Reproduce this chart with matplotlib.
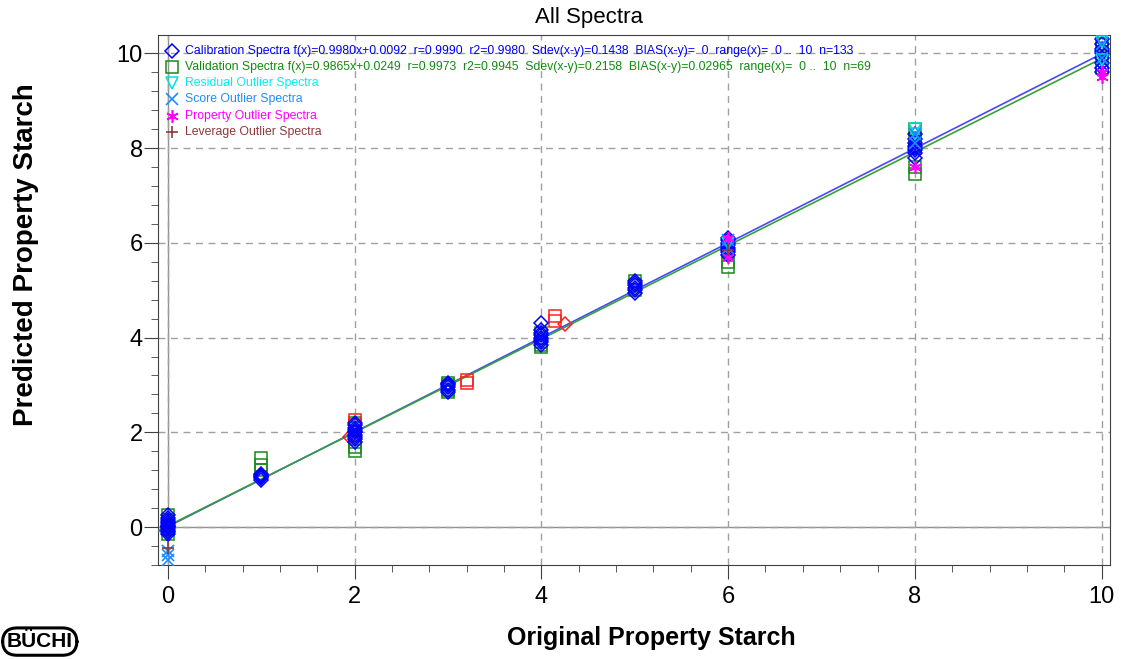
import matplotlib
matplotlib.use("Agg")
from matplotlib import pyplot as plt
from matplotlib.ticker import MultipleLocator

# Calibration spectra (blue diamonds)
cal_x = [0] * 13 + [1] * 6 + [2] * 10 + [3] * 6 + [4] * 8 + [5] * 6 + [6] * 8 + [8] * 8 + [10] * 9
cal_y = [-0.15, -0.1, -0.05, 0.0, 0.02, 0.05, 0.08, 0.1, 0.15, 0.2, 0.25, -0.08, 0.0,
         1.0, 1.03, 1.05, 1.08, 1.1, 1.12,
         1.85, 1.9, 1.95, 2.0, 2.05, 2.1, 2.15, 2.2, 1.8, 2.0,
         2.85, 2.9, 2.95, 3.0, 3.02, 3.05,
         3.85, 3.9, 3.95, 4.0, 4.05, 4.1, 4.15, 4.3,
         4.95, 5.0, 5.05, 5.1, 5.15, 5.2,
         5.75, 5.8, 5.85, 5.9, 5.95, 6.0, 6.05, 6.1,
         7.8, 7.9, 7.95, 8.0, 8.05, 8.1, 8.2, 8.3,
         9.6, 9.7, 9.8, 9.9, 10.0, 10.05, 10.1, 10.2, 10.3]

# Validation spectra (green squares)
val_x = [0] * 5 + [1] * 3 + [2] * 5 + [3] * 5 + [4] * 5 + [5] * 3 + [6] * 4 + [8] * 5 + [10] * 4
val_y = [-0.15, -0.05, 0.05, 0.15, 0.25,
         1.2, 1.3, 1.45,
         1.6, 1.7, 1.8, 2.1, 2.2,
         2.85, 2.9, 2.95, 3.0, 3.05,
         3.8, 3.85, 3.9, 4.0, 4.1,
         5.0, 5.1, 5.2,
         5.5, 5.6, 5.8, 6.0,
         7.45, 7.6, 8.0, 8.2, 8.4,
         9.7, 9.9, 10.1, 10.2]

# outliers
res_x = [6, 8, 8, 10, 10]
res_y = [6.0, 8.3, 8.4, 9.85, 10.25]
score_x = [0, 0, 0, 6, 6, 8, 8, 10, 10]
score_y = [-0.5, -0.6, -0.7, 5.9, 6.05, 8.1, 8.3, 9.9, 10.2]
prop_x = [6, 6, 8, 10, 10]
prop_y = [5.7, 6.1, 7.6, 9.5, 9.6]
lev_x = [0, 6]
lev_y = [-0.45, 5.85]

# highlighted (red) samples
red_d_x = [1.95, 4.25]
red_d_y = [1.9, 4.28]
red_s_x = [2.0, 2.0, 3.2, 3.2, 4.15, 4.15]
red_s_y = [2.25, 2.15, 3.1, 3.05, 4.35, 4.45]

# regression lines
cal_slope, cal_icpt = 0.9980, 0.0092
val_slope, val_icpt = 0.9865, 0.0249

labels = [
    "Calibration Spectra f(x)=0.9980x+0.0092  r=0.9990  r2=0.9980  Sdev(x-y)=0.1438  BIAS(x-y)=  0  range(x)=  0 ..  10  n=133",
    "Validation Spectra f(x)=0.9865x+0.0249  r=0.9973  r2=0.9945  Sdev(x-y)=0.2158  BIAS(x-y)=0.02965  range(x)=  0 ..  10  n=69",
    "Residual Outlier Spectra",
    "Score Outlier Spectra",
    "Property Outlier Spectra",
    "Leverage Outlier Spectra",
]
label_colors = ['#0000ff', '#128a12', '#00f0f0', '#1e8cff', '#ff00ff', '#8b3a3a']

plt.rcParams['font.family'] = ['Liberation Sans', 'DejaVu Sans']

fig = plt.figure(figsize=(11.22, 6.59), dpi=100)
ax = fig.add_axes([0.1408, 0.1426, 0.8485, 0.8042])

ax.axhline(0, color='#909090', lw=1, zorder=1)
ax.axvline(0, color='#909090', lw=1, zorder=1)
ax.grid(True, which='major', ls=(0, (5, 4)), color='#a0a0a0', lw=1)

lx = [-0.1, 10.0]
ax.plot(lx, [cal_slope * v + cal_icpt for v in lx], color='#4848ff', lw=1.2, zorder=3)
lx2 = [-0.1, 10.09]
ax.plot(lx2, [val_slope * v + val_icpt for v in lx2], color='#38a038', lw=1.2, zorder=3)

mk = [
    dict(marker='D', mfc='none', mec='#0000ff', ms=7, mew=1.1),
    dict(marker='s', mfc='none', mec='#1a8a1a', ms=8.5, mew=1.1),
    dict(marker='v', mfc='none', mec='#00e0e0', ms=8, mew=1.1),
    dict(marker='x', color='#1e8cff', ms=8, mew=1.2),
    dict(marker=(6, 2, 0), color='#ff00ff', ms=9, mew=1.2),
    dict(marker='+', color='#8b3a3a', ms=9, mew=1.2),
]

ax.plot(val_x, val_y, ls='none', zorder=4, **mk[1])
ax.plot(cal_x, cal_y, ls='none', zorder=5, **mk[0])
ax.plot(res_x, res_y, ls='none', zorder=5, **mk[2])
ax.plot(score_x, score_y, ls='none', zorder=5, **mk[3])
ax.plot(prop_x, prop_y, ls='none', zorder=5, **mk[4])
ax.plot(lev_x, lev_y, ls='none', zorder=5, **mk[5])
ax.plot(red_s_x, red_s_y, 's', mfc='none', mec='#ff2020', ms=8.5, mew=1.1, ls='none', zorder=4)
ax.plot(red_d_x, red_d_y, 'D', mfc='none', mec='#ff2020', ms=7.5, mew=1.1, ls='none', zorder=4)

# legend, drawn by hand in the top-left corner
for i in range(len(labels)):
    yy = 1 - (15.7 + 16.2 * i) / 530
    ax.plot([0.0147], [yy], transform=ax.transAxes, clip_on=False, ls='none', zorder=6, **mk[i])
    ax.text(0.0284, yy, labels[i], transform=ax.transAxes, color=label_colors[i],
            fontsize=8.8, va='center', ha='left', zorder=6)

ax.set_xlim(-0.107, 10.09)
ax.set_ylim(-0.802, 10.386)
ax.xaxis.set_major_locator(MultipleLocator(2))
ax.xaxis.set_minor_locator(MultipleLocator(0.4))
ax.yaxis.set_major_locator(MultipleLocator(2))
ax.yaxis.set_minor_locator(MultipleLocator(0.4))
ax.tick_params(which='major', length=10, labelsize=17, direction='out', color='#404040')
ax.tick_params(axis='y', which='major', pad=1)
ax.tick_params(axis='x', which='major', pad=5)
ax.tick_params(which='minor', length=5, direction='out', color='#404040')
for s in ax.spines.values():
    s.set_color('#404040')

fig.text(589 / 1122, 1 - 17 / 659, 'All Spectra', fontsize=16, ha='center', va='center')
fig.text(651 / 1122, 1 - 638 / 659, 'Original Property Starch', fontsize=18,
         fontweight='bold', ha='center', va='center')
fig.text(26 / 1122, 1 - 255 / 659, 'Predicted Property Starch', fontsize=20,
         fontweight='bold', rotation=90, ha='center', va='center')

fig.text(0.006, 0.012, 'BÜCHI', fontsize=15, fontweight='bold', va='bottom',
         bbox=dict(boxstyle='round,pad=0.2,rounding_size=0.7', fc='white', ec='black', lw=2.2))

fig.savefig('out.png', dpi=100)
